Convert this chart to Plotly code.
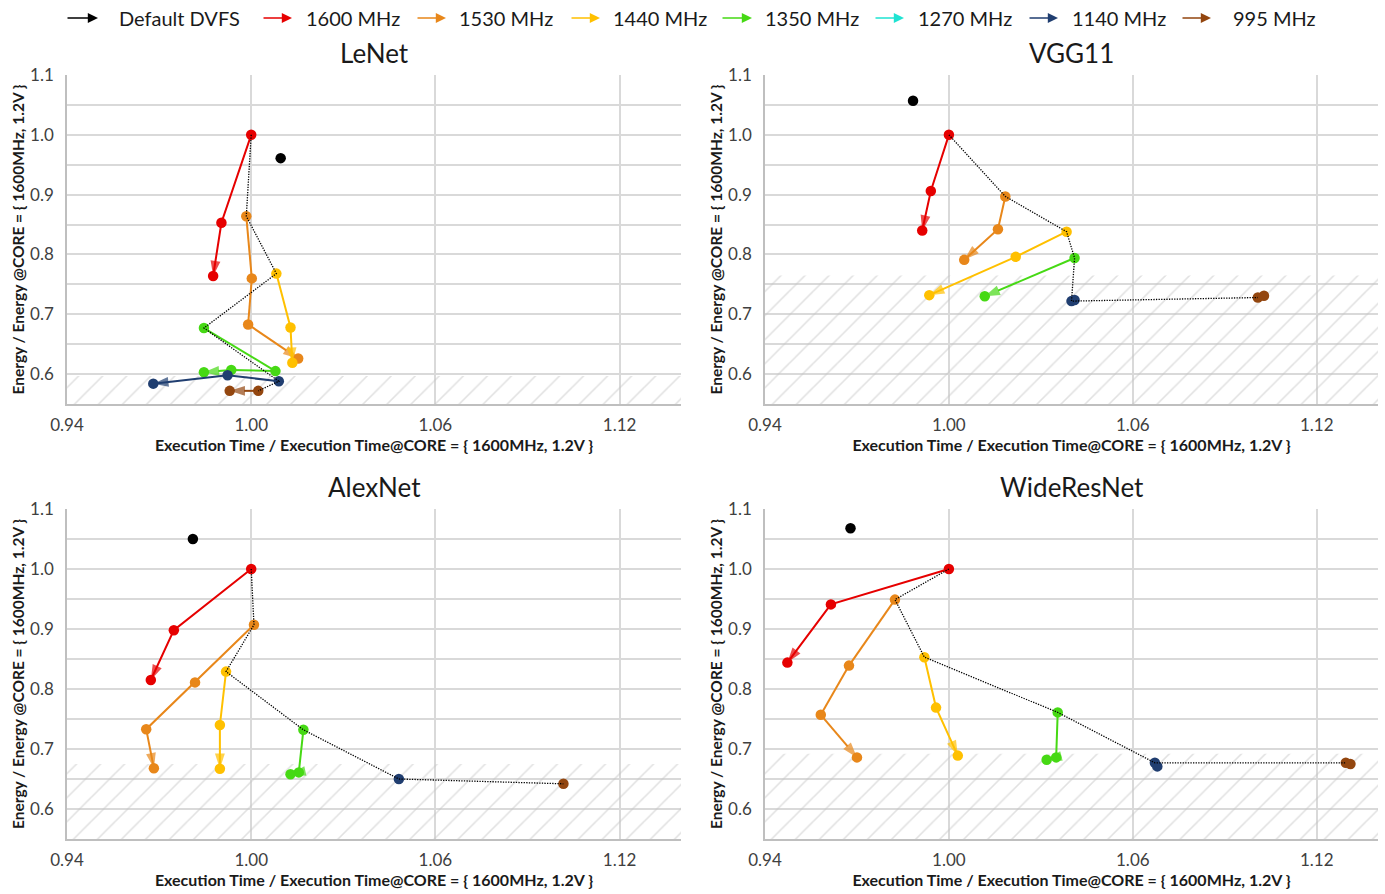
import plotly.graph_objects as go

# ---------------------------------------------------------------------------
# Data: normalised execution time (x) and energy (y) per core frequency.
# Each frequency series walks down the voltage settings; the first point of
# every series is joined by a dotted line.
# ---------------------------------------------------------------------------
FREQS = ["1600 MHz", "1530 MHz", "1440 MHz", "1350 MHz", "1270 MHz", "1140 MHz", "995 MHz"]
COLORS = {
    "Default DVFS": "#000000",
    "1600 MHz": "#e60000",
    "1530 MHz": "#e8871a",
    "1440 MHz": "#ffc000",
    "1350 MHz": "#46d914",
    "1270 MHz": "#1fe3d2",
    "1140 MHz": "#203e70",
    "995 MHz": "#93460f",
}

MODELS = ["LeNet", "VGG11", "AlexNet", "WideResNet"]

lenet_time = {
    "1600 MHz": [1.000, 0.9903, 0.9876],
    "1530 MHz": [0.9984, 1.0002, 0.9990, 1.0153],
    "1440 MHz": [1.0082, 1.0128, 1.0134],
    "1350 MHz": [0.9846, 1.0079, 0.9935, 0.9846],
    "1140 MHz": [1.0090, 0.9923, 0.9681],
    "995 MHz": [1.0023, 0.9930],
}
lenet_energy = {
    "1600 MHz": [1.000, 0.853, 0.764],
    "1530 MHz": [0.864, 0.760, 0.683, 0.626],
    "1440 MHz": [0.768, 0.678, 0.619],
    "1350 MHz": [0.677, 0.605, 0.607, 0.603],
    "1140 MHz": [0.588, 0.598, 0.584],
    "995 MHz": [0.572, 0.572],
}
lenet_default = [1.0096, 0.961]

vgg11_time = {
    "1600 MHz": [1.000, 0.9941, 0.9913],
    "1530 MHz": [1.0184, 1.0160, 1.0050],
    "1440 MHz": [1.0384, 1.0218, 0.9936],
    "1350 MHz": [1.0410, 1.0117],
    "1140 MHz": [1.0400, 1.0410],
    "995 MHz": [1.1008, 1.1028],
}
vgg11_energy = {
    "1600 MHz": [1.000, 0.906, 0.840],
    "1530 MHz": [0.897, 0.842, 0.791],
    "1440 MHz": [0.838, 0.796, 0.732],
    "1350 MHz": [0.794, 0.730],
    "1140 MHz": [0.722, 0.724],
    "995 MHz": [0.728, 0.731],
}
vgg11_default = [0.9883, 1.057]

alexnet_time = {
    "1600 MHz": [1.000, 0.9748, 0.9673],
    "1530 MHz": [1.0009, 0.9817, 0.9658, 0.9683],
    "1440 MHz": [0.9918, 0.9898, 0.9898],
    "1350 MHz": [1.0170, 1.0155, 1.0128],
    "1140 MHz": [1.0481],
    "995 MHz": [1.1017],
}
alexnet_energy = {
    "1600 MHz": [1.000, 0.898, 0.815],
    "1530 MHz": [0.907, 0.811, 0.733, 0.668],
    "1440 MHz": [0.829, 0.740, 0.667],
    "1350 MHz": [0.732, 0.661, 0.658],
    "1140 MHz": [0.650],
    "995 MHz": [0.642],
}
alexnet_default = [0.9810, 1.050]

wrn_time = {
    "1600 MHz": [1.000, 0.9615, 0.9473],
    "1530 MHz": [0.9824, 0.9674, 0.9582, 0.9700],
    "1440 MHz": [0.9920, 0.9958, 1.0029],
    "1350 MHz": [1.0355, 1.0350, 1.0319],
    "1140 MHz": [1.0672, 1.0680],
    "995 MHz": [1.1295, 1.1310],
}
wrn_energy = {
    "1600 MHz": [1.000, 0.941, 0.844],
    "1530 MHz": [0.949, 0.839, 0.757, 0.686],
    "1440 MHz": [0.853, 0.769, 0.689],
    "1350 MHz": [0.761, 0.686, 0.682],
    "1140 MHz": [0.677, 0.671],
    "995 MHz": [0.677, 0.675],
}
wrn_default = [0.9679, 1.068]

# upper edge of the shaded (hatched) energy band in each panel
hatch_top = [0.597, 0.765, 0.675, 0.692]

X_RANGE = [0.94, 1.14]
Y_RANGE = [0.55, 1.10]

panels = [
    (lenet_time, lenet_energy, lenet_default),
    (vgg11_time, vgg11_energy, vgg11_default),
    (alexnet_time, alexnet_energy, alexnet_default),
    (wrn_time, wrn_energy, wrn_default),
]

W, H = 1385, 894
# plot-area boxes in pixels: (left, right, top, bottom)
boxes = [(67, 681, 75, 404), (765, 1378, 75, 404), (67, 681, 509, 839), (765, 1378, 509, 839)]

FONT = "Lato"
fig = go.Figure()


def seg_pixels(box, x0, y0, x1, y1):
    """Screen length of a segment inside a panel, used to skip hidden arrowheads."""
    l, r, t, b = box
    dx = (x1 - x0) / (X_RANGE[1] - X_RANGE[0]) * (r - l)
    dy = (y1 - y0) / (Y_RANGE[1] - Y_RANGE[0]) * (b - t)
    return (dx * dx + dy * dy) ** 0.5


for i, ((tdict, edict, dflt), top) in enumerate(zip(panels, hatch_top)):
    n = "" if i == 0 else str(i + 1)
    xa, ya = "x" + n, "y" + n

    # hatched band
    fig.add_trace(go.Scatter(
        x=[X_RANGE[0], X_RANGE[1], X_RANGE[1], X_RANGE[0], X_RANGE[0]],
        y=[Y_RANGE[0], Y_RANGE[0], top, top, Y_RANGE[0]],
        mode="lines", fill="toself", line=dict(width=0),
        fillcolor="rgba(0,0,0,0)",
        fillpattern=dict(shape="/", fgcolor="#c4c4c4", bgcolor="rgba(0,0,0,0)",
                         size=17, solidity=0.09),
        hoverinfo="skip", showlegend=False, xaxis=xa, yaxis=ya,
    ))

    # frequency series with an arrowhead at the last point
    for f in FREQS:
        if f not in tdict:
            continue
        xs, ys = tdict[f], edict[f]
        col = COLORS[f]
        if len(xs) > 1:
            visible_arrow = seg_pixels(boxes[i], xs[-2], ys[-2], xs[-1], ys[-1]) > 8
            fig.add_trace(go.Scatter(
                x=xs, y=ys, mode="lines+markers",
                line=dict(color=col, width=2),
                marker=dict(symbol=["circle"] * (len(xs) - 1) + ["arrow"],
                            size=[0] * (len(xs) - 1) + [16 if visible_arrow else 0],
                            angleref="previous", color=col, line=dict(width=0)),
                showlegend=False, xaxis=xa, yaxis=ya, name=f,
            ))
        fig.add_trace(go.Scatter(
            x=xs, y=ys, mode="markers",
            marker=dict(symbol="circle", size=10.5, color=col, line=dict(width=0)),
            showlegend=False, xaxis=xa, yaxis=ya, name=f,
        ))

    # dotted line through the first point of every frequency
    fx = [tdict[f][0] for f in FREQS if f in tdict]
    fy = [edict[f][0] for f in FREQS if f in edict]
    fig.add_trace(go.Scatter(
        x=fx, y=fy, mode="lines",
        line=dict(color="#000000", width=1.3, dash="1.3px,1.3px"),
        showlegend=False, xaxis=xa, yaxis=ya, hoverinfo="skip",
    ))

    # default DVFS operating point
    fig.add_trace(go.Scatter(
        x=[dflt[0]], y=[dflt[1]], mode="markers",
        marker=dict(color="#000000", size=10.5),
        showlegend=False, xaxis=xa, yaxis=ya, name="Default DVFS",
    ))

layout = dict(
    width=W, height=H, margin=dict(l=0, r=0, t=0, b=0, autoexpand=False),
    paper_bgcolor="white", plot_bgcolor="white",
    font=dict(family=FONT, color="#404040"),
    showlegend=False,
)

annotations = []
for i, (l, r, t, b) in enumerate(boxes):
    n = "" if i == 0 else str(i + 1)
    xdom = [l / W, r / W]
    ydom = [1 - b / H, 1 - t / H]
    layout["xaxis" + n] = dict(
        domain=xdom, anchor="y" + n, range=X_RANGE, automargin=False,
        tick0=0.94, dtick=0.06, tickformat=".2f",
        showgrid=True, gridcolor="#d9d9d9", gridwidth=1.5,
        showline=True, linecolor="#bfbfbf", linewidth=1.5,
        zeroline=False, ticks="", ticklabelstandoff=5,
        tickfont=dict(size=17, color="#404040", family=FONT),
        title=dict(text="<b>Execution Time / Execution Time@CORE = { 1600MHz, 1.2V }</b>",
                   font=dict(size=16, color="#1a1a1a", family=FONT), standoff=4),
    )
    layout["yaxis" + n] = dict(
        domain=ydom, anchor="x" + n, range=Y_RANGE, automargin=False,
        tick0=0.6, dtick=0.1, tickformat=".1f",
        showgrid=True, gridcolor="#d9d9d9", gridwidth=1.5,
        minor=dict(tick0=0.55, dtick=0.05, showgrid=True, gridcolor="#d9d9d9", gridwidth=1.5),
        showline=True, linecolor="#bfbfbf", linewidth=1.5,
        zeroline=False, ticks="", ticklabelstandoff=8,
        tickfont=dict(size=17, color="#404040", family=FONT),
        title=dict(text="<b>Energy / Energy @CORE = { 1600MHz, 1.2V }</b>",
                   font=dict(size=15.5, color="#1a1a1a", family=FONT), standoff=2),
    )
    annotations.append(dict(
        text=MODELS[i], x=(xdom[0] + xdom[1]) / 2, y=1 - (t - 22) / H,
        xref="paper", yref="paper", xanchor="center", yanchor="middle",
        showarrow=False, font=dict(size=26, color="#1a1a1a", family=FONT),
    ))

# legend row: arrow + label for each series
legend_items = ["Default DVFS"] + FREQS
arrow_start = [66, 262, 416, 570, 721, 874, 1028, 1181]
arrow_end = [98, 292, 446, 600, 752, 904, 1058, 1211]
text_left = [117, 304, 457, 611, 763, 916, 1070, 1231]
LEG_Y = 1 - 18 / H
for name, a0, a1, tx in zip(legend_items, arrow_start, arrow_end, text_left):
    annotations.append(dict(
        x=a1 / W, y=LEG_Y, xref="paper", yref="paper",
        ax=a0 - a1, ay=0, axref="pixel", ayref="pixel",
        text="", showarrow=True, arrowhead=2, arrowsize=1.2, arrowwidth=1.7,
        arrowcolor=COLORS[name],
    ))
    annotations.append(dict(
        x=tx / W, y=LEG_Y, xref="paper", yref="paper",
        xanchor="left", yanchor="middle", text=name, showarrow=False,
        font=dict(size=20, color="#1a1a1a", family=FONT),
    ))

layout["annotations"] = annotations
fig.update_layout(**layout)
fig.write_html("out.html")
